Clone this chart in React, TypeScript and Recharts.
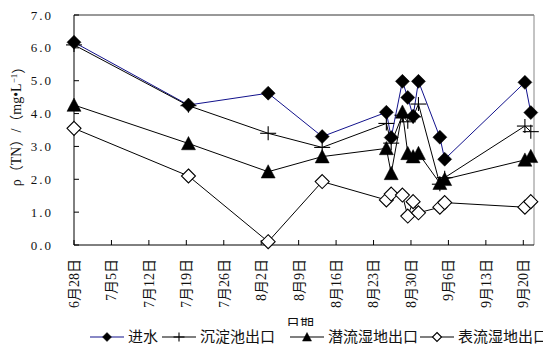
import React from 'react';
import { LineChart, Line, XAxis, YAxis, ReferenceLine } from 'recharts';

// Sampling days, counted in days from 28 June
const sampleDays = [0, 21.4, 36.3, 46.4, 58.4, 59.3, 61.4, 62.4, 63.4, 64.4, 68.4, 69.3, 84.3, 85.4];
// ρ(TN) mg/L
const inflow = [6.17, 4.26, 4.62, 3.3, 4.04, 3.27, 4.98, 4.49, 3.92, 4.98, 3.28, 2.61, 4.95, 4.03];
const sedimentOut = [6.09, 4.24, 3.4, 2.97, 3.7, 3.1, 3.95, 3.75, 3.9, 4.29, 1.85, 2.05, 3.62, 3.45];
const subsurfaceOut = [4.26, 3.09, 2.23, 2.69, 2.94, 2.18, 4.05, 2.79, 2.69, 2.79, 1.88, 2.0, 2.59, 2.7];
const surfaceOut = [3.55, 2.1, 0.1, 1.93, 1.37, 1.55, 1.52, 0.88, 1.32, 0.98, 1.15, 1.29, 1.15, 1.32];

const tickDays = [0, 7, 14, 21, 28, 35, 42, 49, 56, 63, 70, 77, 84];
const tickLabels = ['6月28日', '7月5日', '7月12日', '7月19日', '7月26日', '8月2日', '8月9日', '8月16日', '8月23日', '8月30日', '9月6日', '9月13日', '9月20日'];
const yTicks = [0, 1, 2, 3, 4, 5, 6, 7];
const seriesNames = ['进水', '沉淀池出口', '潜流湿地出口', '表流湿地出口'];
const xTitle = '日期';

const data = sampleDays.map((d, i) => ({
  day: d,
  inflow: inflow[i],
  sediment: sedimentOut[i],
  subsurface: subsurfaceOut[i],
  surface: surfaceOut[i],
}));

const FONT = "'Liberation Serif', 'Noto Sans CJK SC', serif";
const BLUE = '#12128c';

type Shape = 'diamond' | 'plus' | 'triangle' | 'openDiamond';

const Marker = ({ cx, cy, shape, s }: { cx: number; cy: number; shape: Shape; s: number }) => {
  if (cx == null || cy == null) return null;
  if (shape === 'diamond' || shape === 'openDiamond') {
    const d = `M${cx},${cy - s} L${cx + s},${cy} L${cx},${cy + s} L${cx - s},${cy} Z`;
    return shape === 'diamond' ? (
      <path d={d} fill="#000" stroke="#000" strokeWidth={0.5} />
    ) : (
      <path d={d} fill="#fff" stroke="#000" strokeWidth={1.1} />
    );
  }
  if (shape === 'triangle') {
    return (
      <path
        d={`M${cx},${cy - s} L${cx + s},${cy + s * 0.9} L${cx - s},${cy + s * 0.9} Z`}
        fill="#000"
        stroke="#000"
        strokeWidth={0.5}
      />
    );
  }
  return (
    <g stroke="#000" strokeWidth={1.1}>
      <line x1={cx - s - 1} y1={cy} x2={cx + s + 1} y2={cy} />
      <line x1={cx} y1={cy - s} x2={cx} y2={cy + s} />
    </g>
  );
};

const makeDot = (shape: Shape) => (p: any) => (
  <Marker key={`${shape}-${p.index}`} cx={p.cx} cy={p.cy} shape={shape} s={7} />
);

const XTick = (p: any) => {
  const { x, y, payload } = p;
  const idx = tickDays.indexOf(payload.value);
  return (
    <text
      x={x}
      y={y}
      transform={`rotate(-90 ${x} ${y})`}
      textAnchor="end"
      dy="0.35em"
      fontSize={14}
      fontFamily={FONT}
      fill="#111"
    >
      {idx >= 0 ? tickLabels[idx] : ''}
    </text>
  );
};

const YTick = (p: any) => {
  const { x, y, payload } = p;
  return (
    <text x={x} y={y} textAnchor="end" dy="0.35em" fontSize={13} fontFamily={FONT} fill="#111" letterSpacing={2}>
      {Number(payload.value).toFixed(1)}
    </text>
  );
};

const YTitle = (p: any) => {
  const vb = p.viewBox || { x: 0, y: 0, width: 0, height: 0 };
  const cx = vb.x - 8;
  const cy = vb.y + vb.height / 2 - 7;
  return (
    <text
      x={cx}
      y={cy}
      transform={`rotate(-90 ${cx} ${cy})`}
      textAnchor="middle"
      dy="0.35em"
      fontSize={14}
      fontFamily={FONT}
      fill="#111"
    >
      ρ（TN）/（mg•L<tspan dy="-0.45em" fontSize={9}>−1</tspan>
      <tspan dy="0.45em">）</tspan>
    </text>
  );
};

const XTitle = (p: any) => {
  const vb = p.viewBox || { x: 0, y: 0, width: 0, height: 0 };
  return (
    <text x={vb.x + vb.width / 2 - 4} y={324 - 8} textAnchor="middle" dy="0.35em" fontSize={14} fontFamily={FONT} fill="#111">
      {xTitle}
    </text>
  );
};

const legendItems: { name: string; shape: Shape; color: string; left: number }[] = [
  { name: seriesNames[0], shape: 'diamond', color: BLUE, left: 82 },
  { name: seriesNames[1], shape: 'plus', color: '#000', left: 154 },
  { name: seriesNames[2], shape: 'triangle', color: '#000', left: 282 },
  { name: seriesNames[3], shape: 'openDiamond', color: '#000', left: 412 },
];

export default function App() {
  return (
    <div style={{ position: 'relative', width: 543, height: 339, overflow: 'hidden' }}>
      <LineChart width={543} height={339} data={data} margin={{ top: 7, right: 17, left: 16, bottom: 42 }}>
        <XAxis
          dataKey="day"
          type="number"
          domain={[0, 86]}
          ticks={tickDays}
          interval={0}
          height={60}
          tickSize={-5}
          tickMargin={19}
          axisLine={{ stroke: '#000', strokeWidth: 1 }}
          tickLine={{ stroke: '#000', strokeWidth: 1 }}
          tick={<XTick />}
          label={{ content: (p: any) => <XTitle {...p} /> }}
        />
        <YAxis
          type="number"
          domain={[0, 7]}
          ticks={yTicks}
          interval={0}
          width={50}
          tickSize={-5}
          tickMargin={26}
          axisLine={{ stroke: '#000', strokeWidth: 1 }}
          tickLine={{ stroke: '#000', strokeWidth: 1 }}
          tick={<YTick />}
          label={{ content: (p: any) => <YTitle {...p} /> }}
        />
        <ReferenceLine y={7} stroke="#333" strokeWidth={1} />
        <ReferenceLine x={86} stroke="#888" strokeWidth={1} />
        <Line dataKey="inflow" stroke={BLUE} strokeWidth={1} dot={makeDot('diamond')} activeDot={false} isAnimationActive={false} />
        <Line dataKey="sediment" stroke="#000" strokeWidth={1} dot={makeDot('plus')} activeDot={false} isAnimationActive={false} />
        <Line dataKey="subsurface" stroke="#000" strokeWidth={1} dot={makeDot('triangle')} activeDot={false} isAnimationActive={false} />
        <Line dataKey="surface" stroke="#000" strokeWidth={1} dot={makeDot('openDiamond')} activeDot={false} isAnimationActive={false} />
      </LineChart>
      <div
        style={{
          position: 'absolute',
          left: 0,
          top: 318,
          width: 543,
          height: 21,
          background: '#fff',
        }}
      >
        {legendItems.map((it) => (
          <div
            key={it.name}
            style={{
              position: 'absolute',
              left: it.left,
              top: 2,
              height: 18,
              display: 'flex',
              alignItems: 'center',
              whiteSpace: 'nowrap',
            }}
          >
            <svg width={34} height={14} style={{ display: 'block' }}>
              <line x1={0} y1={7} x2={34} y2={7} stroke={it.color} strokeWidth={1.2} />
              <Marker cx={17} cy={7} shape={it.shape} s={4.5} />
            </svg>
            <span style={{ marginLeft: 4, fontSize: 15, fontFamily: FONT, color: '#111', lineHeight: '18px' }}>{it.name}</span>
          </div>
        ))}
      </div>
    </div>
  );
}
